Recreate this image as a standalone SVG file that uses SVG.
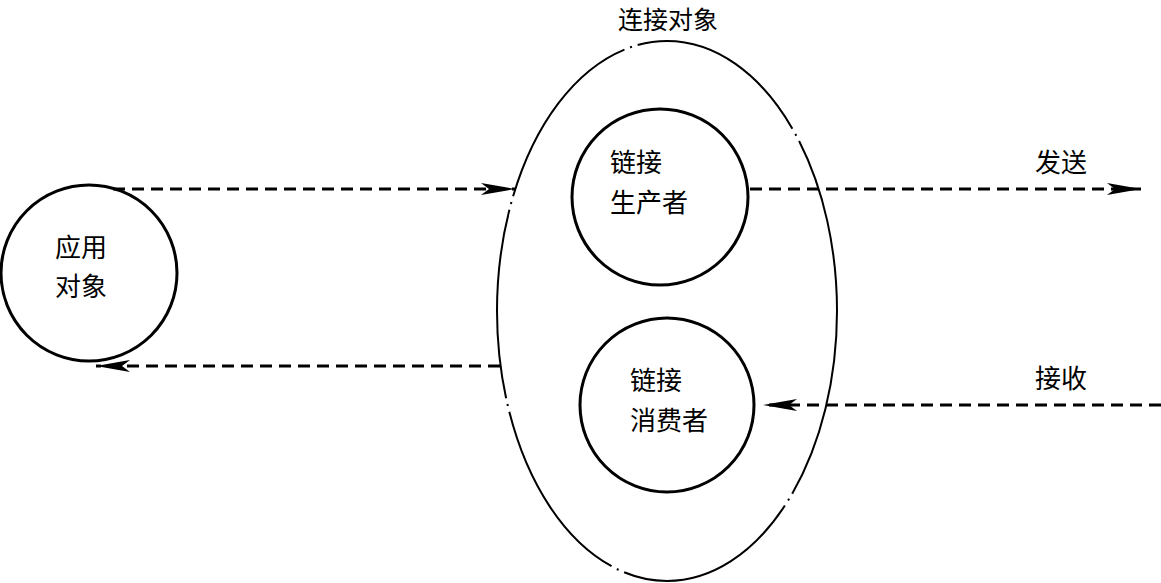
<svg xmlns="http://www.w3.org/2000/svg" width="1161" height="583" viewBox="0 0 1161 583">
<style>
.c{fill:none;stroke:#000;stroke-width:3}
.d{fill:none;stroke:#000;stroke-width:3;stroke-dasharray:12 7}
text{font-family:"Noto Sans CJK SC",sans-serif;font-size:26px;fill:#000}
</style>
<defs><marker id="a" markerWidth="36" markerHeight="12" refX="34" refY="6" orient="auto" markerUnits="userSpaceOnUse"><path d="M0,0 L34,6 L0,12 L8,6 Z" fill="#000"/></marker></defs>
<rect width="1161" height="583" fill="#fff"/>
<g id="conn-obj"><ellipse cx="667" cy="311" rx="170" ry="270" fill="none" stroke="#000" stroke-width="2" stroke-dasharray="190 6 2 6"/><text x="668" y="29" text-anchor="middle" style="font-size:25px">连接对象</text></g>
<g id="app"><circle class="c" cx="89" cy="273" r="88"/><text x="55" y="257">应用</text><text x="55" y="296">对象</text></g>
<g id="producer"><circle class="c" cx="660" cy="197" r="88"/><text x="610" y="172">链接</text><text x="610" y="212">生产者</text></g>
<g id="consumer"><circle class="c" cx="667" cy="405" r="87"/><text x="630" y="390">链接</text><text x="630" y="430">消费者</text></g>
<g id="connectors">
<line class="d" x1="113" y1="189" x2="515" y2="189" marker-end="url(#a)"/>
<line class="d" x1="500" y1="366" x2="96" y2="366" marker-end="url(#a)"/>
<line class="d" x1="750" y1="189" x2="1141" y2="189" marker-end="url(#a)"/>
<line class="d" x1="1161" y1="405" x2="763" y2="405" marker-end="url(#a)"/>
<text x="1035" y="172">发送</text><text x="1035" y="388">接收</text>
</g>
</svg>
